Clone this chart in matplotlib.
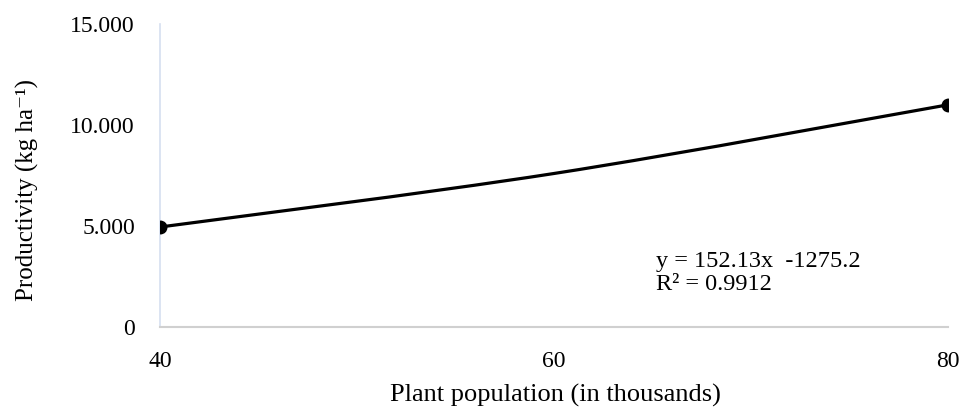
import matplotlib
matplotlib.use("Agg")
import matplotlib.pyplot as plt
from matplotlib.path import Path
from matplotlib.patches import PathPatch
from matplotlib.ticker import FuncFormatter

population = [40, 60, 80]
productivity = [4950, 7600, 11000]
x_ticks = [40, 60, 80]
y_ticks = [0, 5000, 10000, 15000]
equation = "y = 152.13x  -1275.2"
r2_text = "R² = 0.9912"

plt.rcParams['font.family'] = ['Liberation Serif', 'DejaVu Serif']

fig = plt.figure(figsize=(9.67, 4.09), dpi=100)
ax = fig.add_axes([0.1655, 0.2005, 0.8149, 0.7408])

# smooth curve (Excel-like Catmull-Rom Bezier) through data points
pts = list(zip(population, productivity))
verts = [pts[0]]
codes = [Path.MOVETO]
n = len(pts)
for i in range(n - 1):
    p_prev = pts[i - 1] if i > 0 else pts[i]
    p0 = pts[i]
    p1 = pts[i + 1]
    p_next = pts[i + 2] if i + 2 < n else pts[i + 1]
    c1 = (p0[0] + (p1[0] - p_prev[0]) / 6, p0[1] + (p1[1] - p_prev[1]) / 6)
    c2 = (p1[0] - (p_next[0] - p0[0]) / 6, p1[1] - (p_next[1] - p0[1]) / 6)
    verts += [c1, c2, p1]
    codes += [Path.CURVE4] * 3
patch = PathPatch(Path(verts, codes), facecolor='none', edgecolor='black', lw=2.3,
                  capstyle='round', joinstyle='round', zorder=3)
ax.add_patch(patch)
ax.plot([population[0], population[-1]], [productivity[0], productivity[-1]],
        linestyle='none', marker='o', color='black', markersize=9, zorder=4)

ax.set_xlim(40, 80)
ax.set_ylim(0, 15000)
ax.set_xticks(x_ticks)
ax.set_yticks(y_ticks)
ax.yaxis.set_major_formatter(FuncFormatter(lambda v, p: f"{int(v):,}".replace(",", ".")))
ax.tick_params(axis='both', length=0, labelsize=17)
ax.tick_params(axis='y', pad=18)
ax.tick_params(axis='x', pad=17)

for s in ['top', 'right']:
    ax.spines[s].set_visible(False)
ax.spines['left'].set_color('#d6dff0')
ax.spines['left'].set_linewidth(1.2)
ax.spines['bottom'].set_color('#d0d0d0')
ax.spines['bottom'].set_linewidth(1.5)

fig.text(27 / 967, 1 - 190 / 409, "Productivity (kg ha⁻¹)", fontsize=18,
         rotation=90, ha='center', va='center')
fig.text(555 / 967, 1 - 402 / 409, "Plant population (in thousands)", fontsize=19,
         ha='center', va='baseline')

ax.text(65.2, 2970, equation, fontsize=17.5, va='baseline', ha='left')
ax.text(65.2, 1830, r2_text, fontsize=17.5, va='baseline', ha='left')

fig.savefig("out.png", dpi=100)
